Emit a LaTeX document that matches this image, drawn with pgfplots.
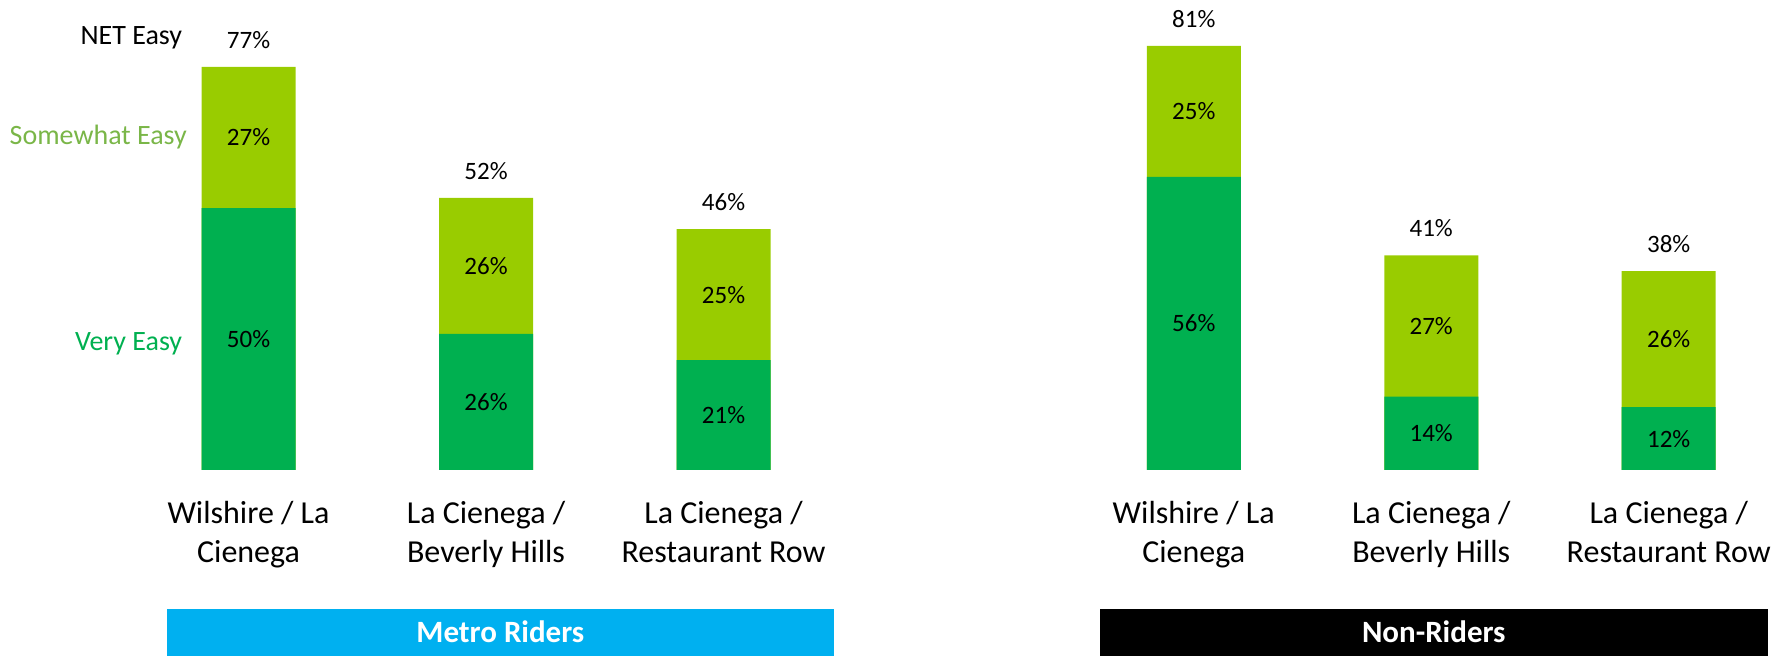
\documentclass[border=0pt]{standalone}
\usepackage{pgfplots}
\usepackage{pgfplotstable}
\pgfplotsset{compat=1.18}
\usepackage{fontspec}
\setmainfont{Carlito}

\definecolor{veryeasy}{HTML}{00B050}
\definecolor{someeasy}{HTML}{99CC00}
\definecolor{somelabel}{HTML}{7AB648}
\definecolor{metroblue}{HTML}{00B0F0}

% x: station, very: Very Easy, some: Somewhat Easy
\pgfplotstableread{
x very some
0 50 27
1 26 26
2 21 25
}\metro
\pgfplotstableread{
x very some
0 56 25
1 14 27
2 12 26
}\nonriders

\pgfplotsset{
  easybars/.style={
    ybar, bar shift=0pt,
    scale only axis,
    height=235.6pt,
    ymin=0, ymax=90,
    xmin=-0.5,
    bar width=47pt,
    axis line style={draw=none},
    major tick length=0pt,
    ytick=\empty,
    xtick={0,1,2},
    xticklabels={Wilshire / La\\Cienega, La Cienega /\\Beverly Hills, La Cienega /\\Restaurant Row},
    xticklabel style={align=center, font=\fontsize{16}{19.5}\selectfont, yshift=-12.3pt},
    clip=false,
  },
  pctlabels/.style={draw=none, fill=none, point meta=explicit,
    nodes near coords={\pgfmathprintnumber[assume math mode=true]{\pgfplotspointmeta}\%},
    every node near coord/.append style={font=\fontsize{12.5}{15}\selectfont, text=black, anchor=center}},
  netlabel/.style={pctlabels, every node near coord/.append style={yshift=13.5pt}},
}

\newcommand\easygroup[1]{%
  \addplot[draw=none, fill=someeasy] table[x=x, y expr=\thisrow{very}+\thisrow{some}] {#1};
  \addplot[draw=none, fill=veryeasy] table[x=x, y=very] {#1};
  \addplot[pctlabels] table[x=x, y expr=\thisrow{very}/2, meta=very] {#1};
  \addplot[pctlabels] table[x=x, y expr=\thisrow{very}+\thisrow{some}/2, meta=some] {#1};
  \addplot[netlabel] table[x=x, y expr=\thisrow{very}+\thisrow{some}, meta expr=\thisrow{very}+\thisrow{some}] {#1};
}

\begin{document}
\begin{tikzpicture}
\useasboundingbox (0,0) rectangle (891.5pt,328pt);

% Metro Riders
\begin{axis}[easybars, width=356.25pt, xmax=2.5, at={(64.9pt,93pt)}, anchor=south west]
  \easygroup{\metro}
  \node[anchor=east, font=\fontsize{14}{17}\selectfont] at (axis cs:-0.25,82.5) {NET Easy};
  \node[anchor=east, font=\fontsize{14}{17}\selectfont, text=somelabel] at (axis cs:-0.23,63.6) {Somewhat Easy};
  \node[anchor=east, font=\fontsize{14}{17}\selectfont, text=veryeasy] at (axis cs:-0.25,24.1) {Very Easy};
\end{axis}

% Non-Riders
\begin{axis}[easybars, width=350.3pt, xmax=2.45, at={(537.5pt,93pt)}, anchor=south west]
  \easygroup{\nonriders}
\end{axis}

\fill[metroblue] (83.3pt,0) rectangle (417pt,23.5pt);
\node[text=white, font=\fontsize{15.5}{18}\selectfont\bfseries] at (250.2pt,12pt) {Metro Riders};
\fill[black] (550pt,0) rectangle (883.8pt,23.5pt);
\node[text=white, font=\fontsize{15.5}{18}\selectfont\bfseries] at (716.9pt,12pt) {Non-Riders};
\end{tikzpicture}
\end{document}
